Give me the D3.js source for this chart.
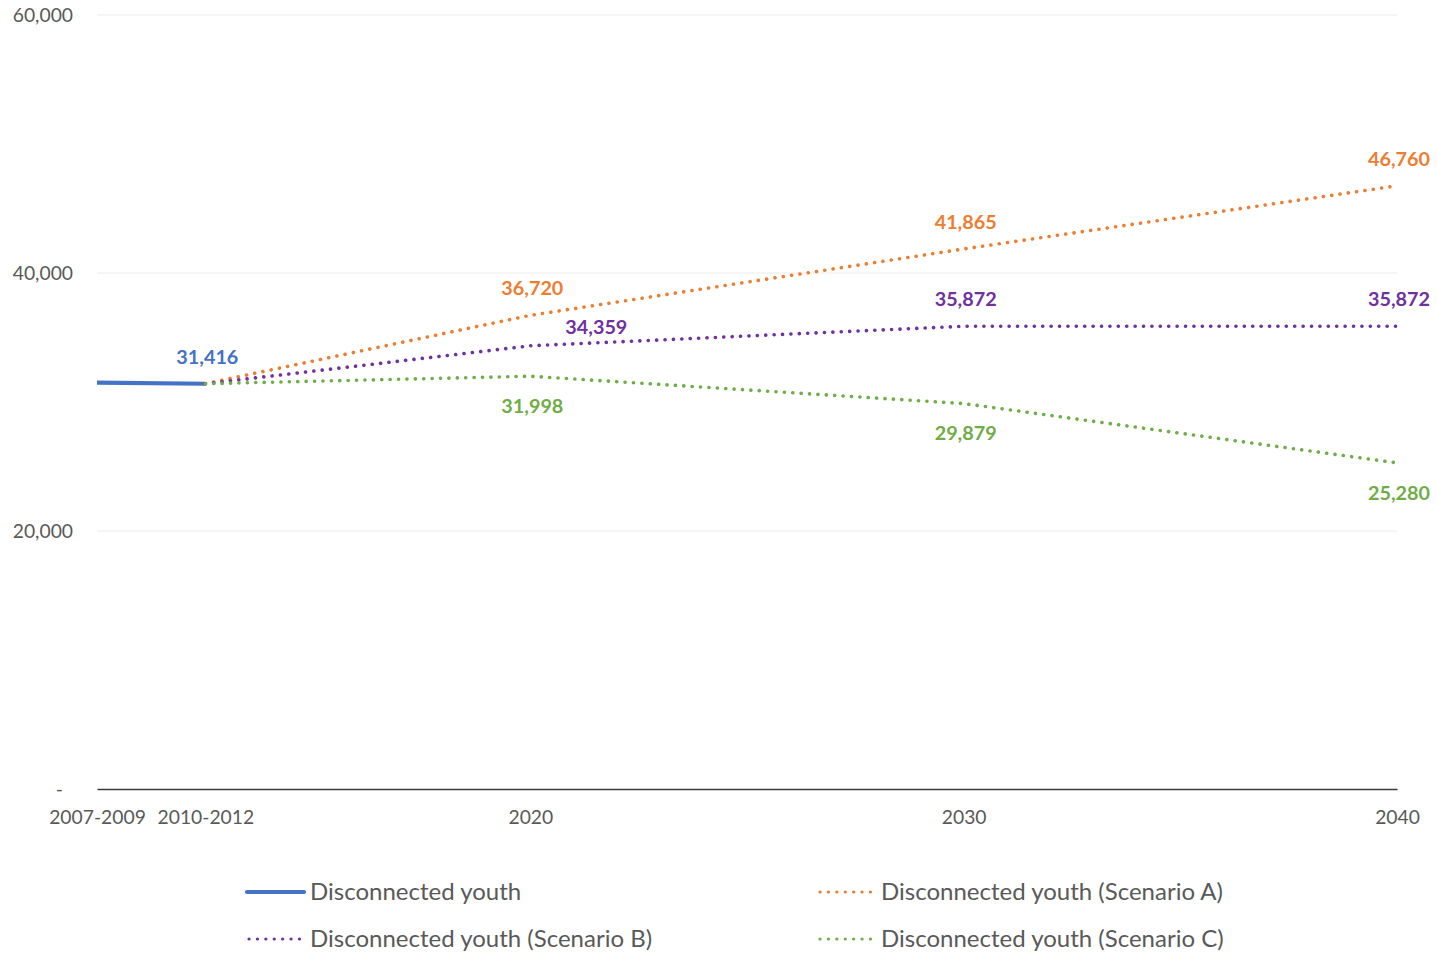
<!DOCTYPE html>
<html>
<head>
<meta charset="utf-8">
<script src="https://cdn.jsdelivr.net/npm/d3@7"></script>
<style>
  html, body { margin: 0; padding: 0; background: #ffffff; }
  svg { display: block; }
  text { font-family: Lato, "Open Sans", "Liberation Sans", sans-serif; }
</style>
</head>
<body>
<svg id="chart" width="1437" height="953"></svg>
<script>
// Period positions on a continuous year axis, with their printed labels
const periods = [2010, 2012.5, 2020, 2030, 2040];
const periodLabels = ["2007-2009", "2010-2012", "2020", "2030", "2040"];

// Disconnected youth counts (historic, then three projection scenarios)
const historic  = [31500, 31416, null, null, null];
const scenarioA = [null, 31416, 36720, 41865, 46760];
const scenarioB = [null, 31416, 34359, 35872, 35872];
const scenarioC = [null, 31416, 31998, 29879, 25280];

const yTicks = [0, 20000, 40000, 60000];

// Which points carry a value label
const labelsHistoric = [false, true, false, false, false];
const labelsProjected = [false, false, true, true, true];

const series = [
  { name: "Disconnected youth", values: historic, color: "#4472C4", dotted: false, labels: labelsHistoric, place: "above" },
  { name: "Disconnected youth (Scenario A)", values: scenarioA, color: "#ED7D31", dotted: true, labels: labelsProjected, place: "above" },
  { name: "Disconnected youth (Scenario B)", values: scenarioB, color: "#7030A0", dotted: true, labels: labelsProjected, place: "above" },
  { name: "Disconnected youth (Scenario C)", values: scenarioC, color: "#70AD47", dotted: true, labels: labelsProjected, place: "below" }
];

const svg = d3.select("#chart");
const x = d3.scaleLinear().domain([2010, 2040]).range([97, 1397]);
const y = d3.scaleLinear().domain([0, 60000]).range([789, 15]);

const fmt = d3.format(",");

// Horizontal gridlines
svg.append("g")
  .selectAll("line")
  .data(yTicks.filter(d => d > 0))
  .join("line")
  .attr("x1", x(2010)).attr("x2", x(2040))
  .attr("y1", d => y(d)).attr("y2", d => y(d))
  .attr("stroke", "#ececec").attr("stroke-width", 1.2);

// Y axis labels (accounting style: zero shown as a dash)
const yAxis = d3.axisLeft(y).tickValues(yTicks)
  .tickSize(0).tickPadding(0)
  .tickFormat(d => d === 0 ? "-" : fmt(d));
const gy = svg.append("g").attr("transform", "translate(73,0)").call(yAxis);
gy.select(".domain").remove();
gy.selectAll("text")
  .attr("fill", "#595959").attr("font-size", 19.3)
  .attr("dx", d => d === 0 ? -10 : 0)
  .attr("dy", "0.36em");

// X axis baseline and period labels
const xAxis = d3.axisBottom(x).tickValues(periods)
  .tickSize(0).tickPadding(21)
  .tickFormat((d, i) => periodLabels[i]);
const gx = svg.append("g").attr("transform", `translate(0,${y(0)})`).call(xAxis);
gx.select(".domain").attr("stroke", "#3a3a3a").attr("stroke-width", 1.4);
gx.selectAll("text").attr("fill", "#595959").attr("font-size", 19.3);

// Lines
const line = d3.line()
  .defined(d => d.v !== null)
  .x(d => x(d.p))
  .y(d => y(d.v));

series.forEach(s => {
  const pts = s.values.map((v, i) => ({ p: periods[i], v }));
  svg.append("path")
    .datum(pts)
    .attr("d", line)
    .attr("fill", "none")
    .attr("stroke", s.color)
    .attr("stroke-width", s.dotted ? 3.6 : 4.2)
    .attr("stroke-linecap", s.dotted ? "round" : "butt")
    .attr("stroke-dasharray", s.dotted ? "0.1 8.3" : null);
});

// Value labels; the 2020 Scenario B label sits nudged to the right
const nudges = { "Disconnected youth (Scenario B)|2020": [64, 8] };

series.forEach(s => {
  const pts = s.values
    .map((v, i) => ({ p: periods[i], v, show: s.labels[i] }))
    .filter(d => d.show && d.v !== null);
  svg.append("g")
    .selectAll("text")
    .data(pts)
    .join("text")
    .attr("x", d => x(d.p) + 2 + ((nudges[s.name + "|" + d.p] || [0, 0])[0]))
    .attr("y", d => y(d.v) + (s.place === "above" ? -27 : 30) + ((nudges[s.name + "|" + d.p] || [0, 0])[1]))
    .attr("dy", "0.35em")
    .attr("text-anchor", "middle")
    .attr("font-size", 19.8)
    .attr("font-weight", "bold")
    .attr("fill", s.color)
    .text(d => fmt(d.v));
});

// Legend (two columns, two rows)
const legendPos = [[247, 892], [818, 892], [247, 939], [818, 939]];
const legendOrder = [0, 1, 2, 3];
const lg = svg.append("g");
legendOrder.forEach((si, k) => {
  const s = series[si];
  const [lx, ly] = legendPos[k];
  lg.append("line")
    .attr("x1", lx + (s.dotted ? 2 : 0)).attr("x2", lx + 57)
    .attr("y1", ly).attr("y2", ly)
    .attr("stroke", s.color)
    .attr("stroke-width", s.dotted ? 3.2 : 4.2)
    .attr("stroke-linecap", "round")
    .attr("stroke-dasharray", s.dotted ? "0.1 8.3" : null);
  lg.append("text")
    .attr("x", lx + 63).attr("y", ly)
    .attr("dy", "0.35em")
    .attr("font-size", 24)
    .attr("fill", "#595959")
    .text(s.name);
});
</script>
</body>
</html>
